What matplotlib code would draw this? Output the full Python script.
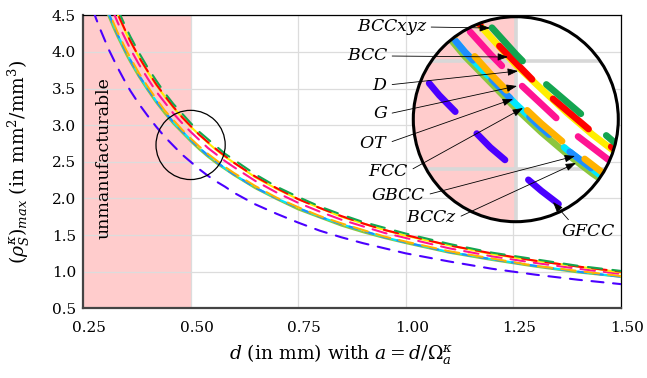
import numpy as np
import matplotlib
matplotlib.use("Agg")
import matplotlib.pyplot as plt
from matplotlib.patches import Circle, Ellipse
from matplotlib.transforms import ScaledTranslation

plt.rcParams['font.family'] = ['DejaVu Serif']
plt.rcParams['mathtext.fontset'] = 'dejavuserif'

# strut diameter d (mm) where the curves were read
d_pts = [0.25, 0.26, 0.27, 0.28, 0.29, 0.30, 0.31, 0.32, 0.33, 0.34, 0.35, 0.36,
         0.38, 0.40, 0.42, 0.44, 0.46, 0.48, 0.50, 0.52, 0.54, 0.56, 0.58, 0.60,
         0.65, 0.70, 0.75, 0.80, 0.85, 0.90, 0.95, 1.00, 1.10, 1.20, 1.30, 1.40, 1.50]

# (rho_S)_max for each lattice
BCCxyz = [6.06, 5.83, 5.61, 5.41, 5.22, 5.05, 4.89, 4.73, 4.59, 4.46, 4.33, 4.21,
          3.99, 3.79, 3.61, 3.44, 3.29, 3.16, 3.03, 2.91, 2.81, 2.71, 2.61, 2.53,
          2.33, 2.16, 2.02, 1.89, 1.78, 1.68, 1.60, 1.52, 1.38, 1.26, 1.17, 1.08, 1.01]
BCC    = [5.98, 5.75, 5.54, 5.34, 5.16, 4.98, 4.82, 4.67, 4.53, 4.40, 4.27, 4.15,
          3.93, 3.74, 3.56, 3.40, 3.25, 3.11, 2.99, 2.87, 2.77, 2.67, 2.58, 2.49,
          2.30, 2.14, 1.99, 1.87, 1.76, 1.66, 1.57, 1.50, 1.36, 1.25, 1.15, 1.07, 1.00]
D      = [5.97, 5.74, 5.53, 5.33, 5.14, 4.97, 4.81, 4.66, 4.52, 4.39, 4.26, 4.14,
          3.93, 3.73, 3.55, 3.39, 3.24, 3.11, 2.98, 2.87, 2.76, 2.66, 2.57, 2.49,
          2.29, 2.13, 1.99, 1.87, 1.75, 1.66, 1.57, 1.49, 1.36, 1.24, 1.15, 1.07, 0.99]
G      = [5.82, 5.60, 5.39, 5.20, 5.02, 4.85, 4.69, 4.55, 4.41, 4.28, 4.16, 4.04,
          3.83, 3.64, 3.46, 3.31, 3.16, 3.03, 2.91, 2.80, 2.69, 2.60, 2.51, 2.43,
          2.24, 2.08, 1.94, 1.82, 1.71, 1.62, 1.53, 1.46, 1.32, 1.21, 1.12, 1.04, 0.97]
OT     = [5.64, 5.42, 5.22, 5.04, 4.86, 4.70, 4.55, 4.41, 4.27, 4.15, 4.03, 3.92,
          3.71, 3.53, 3.36, 3.20, 3.07, 2.94, 2.82, 2.71, 2.61, 2.52, 2.43, 2.35,
          2.17, 2.01, 1.88, 1.76, 1.66, 1.57, 1.48, 1.41, 1.28, 1.18, 1.08, 1.01, 0.94]
GBCC   = [5.60, 5.38, 5.19, 5.00, 4.83, 4.67, 4.52, 4.38, 4.24, 4.12, 4.00, 3.89,
          3.68, 3.50, 3.33, 3.18, 3.04, 2.92, 2.80, 2.69, 2.59, 2.50, 2.41, 2.33,
          2.15, 2.00, 1.87, 1.75, 1.65, 1.56, 1.47, 1.40, 1.27, 1.17, 1.08, 1.00, 0.93]
FCC    = [5.60, 5.38, 5.19, 5.00, 4.83, 4.67, 4.52, 4.38, 4.24, 4.12, 4.00, 3.89,
          3.68, 3.50, 3.33, 3.18, 3.04, 2.92, 2.80, 2.69, 2.59, 2.50, 2.41, 2.33,
          2.15, 2.00, 1.87, 1.75, 1.65, 1.56, 1.47, 1.40, 1.27, 1.17, 1.08, 1.00, 0.93]
BCCz   = [5.56, 5.35, 5.15, 4.96, 4.79, 4.63, 4.48, 4.34, 4.21, 4.09, 3.97, 3.86,
          3.66, 3.48, 3.31, 3.16, 3.02, 2.90, 2.78, 2.67, 2.57, 2.48, 2.40, 2.32,
          2.14, 1.99, 1.85, 1.74, 1.63, 1.54, 1.46, 1.39, 1.26, 1.16, 1.07, 0.99, 0.93]
GFCC   = [5.00, 4.81, 4.63, 4.46, 4.31, 4.17, 4.03, 3.91, 3.79, 3.68, 3.57, 3.47,
          3.29, 3.13, 2.98, 2.84, 2.72, 2.60, 2.50, 2.40, 2.31, 2.23, 2.16, 2.08,
          1.92, 1.79, 1.67, 1.56, 1.47, 1.39, 1.32, 1.25, 1.14, 1.04, 0.96, 0.89, 0.83]

x_ticks = [0.25, 0.50, 0.75, 1.00, 1.25, 1.50]
y_ticks = [0.5, 1.0, 1.5, 2.0, 2.5, 3.0, 3.5, 4.0, 4.5]
d_min_manuf = 0.5

# drawing order, colour, dash (on, off in linewidths), dash offset
series = [
    (BCCz,   '#8cc63f', None, 0),
    (FCC,    '#00e8ff', (7, 4.3), 3),
    (GBCC,   '#1e8fff', (4, 4), 0),
    (OT,     '#ffb300', (7, 4.3), 0),
    (G,      '#ff1493', (7, 4.3), 5),
    (D,      '#ffee00', None, 0),
    (BCC,    '#ff0000', (7, 4.3), 2),
    (BCCxyz, '#14a550', (6.8, 5), 6),
    (GFCC,   '#4b00ff', (5.8, 4.6), 4.8),
]

W, H = 647, 378
fig = plt.figure(figsize=(W / 100, H / 100), dpi=100)
ax = fig.add_axes([83 / W, 1 - 308.3 / H, (621 - 83) / W, (308.3 - 15.3) / H])

ax.axvspan(0.25, d_min_manuf, color='#ffcccc', lw=0, zorder=0)
for xt in x_ticks:
    ax.axvline(xt, color='#dcdcdc', lw=0.9, zorder=1)
for yt in y_ticks:
    ax.axhline(yt, color='#dcdcdc', lw=0.9, zorder=1)


def draw_curves(a, lw):
    for vals, col, dash, off in series:
        ls = '-' if dash is None else (off, dash)
        a.plot(d_pts, vals, color=col, lw=lw, ls=ls, zorder=3,
               dash_capstyle='round', solid_capstyle='round')


draw_curves(ax, 1.5)

ax.set_xlim(0.25, 1.5)
ax.set_ylim(0.5, 4.5)
ax.set_xticks(x_ticks)
ax.set_xticklabels(['%.2f' % v for v in x_ticks])
ax.set_yticks(y_ticks)
ax.tick_params(length=0, labelsize=11)
ax.tick_params(axis='x', pad=9)
ax.tick_params(axis='y', pad=5)
shift = ScaledTranslation(6 / 100, 0, fig.dpi_scale_trans)
for lab in ax.get_xticklabels():
    lab.set_transform(lab.get_transform() + shift)
for s in ['left', 'bottom']:
    ax.spines[s].set_linewidth(1.6)
    ax.spines[s].set_color('#444444')
for s in ['top', 'right']:
    ax.spines[s].set_linewidth(0.9)
ax.set_xlabel(r'$d$ (in mm) with $a = d/\Omega_a^\kappa$', fontsize=13.5)
ax.xaxis.set_label_coords(0.48, -0.115)
ax.set_ylabel(r'$(\rho_S^\kappa)_{max}$ (in mm$^2$/mm$^3$)', fontsize=13.5)
ax.yaxis.set_label_coords(-0.094, 0.5)
ax.text(0.30, 2.55, 'unmanufacturable', rotation=90, ha='center', va='center', fontsize=12.5)

# small circle marking the magnified region
cx, cy = 0.5, 2.73
rx, ry = 34.6 / 430.4, 34.6 / 73.25
ax.add_patch(Ellipse((cx, cy), 2 * rx, 2 * ry, fill=False, ec='black', lw=0.9, zorder=5))

# magnified inset (x3)
R = 102.5
ins = fig.add_axes([(515.8 - R) / W, 1 - (119.2 + R) / H, 2 * R / W, 2 * R / H])
ins.set_xlim(cx - rx, cx + rx)
ins.set_ylim(cy - ry, cy + ry)
ins.axis('off')
clip = Circle((0.5, 0.5), 0.5, transform=ins.transAxes)
bg = Circle((0.5, 0.5), 0.5, transform=ins.transAxes, fc='white', ec='none', zorder=0)
ins.add_patch(bg)
ins.axvspan(0.25, d_min_manuf, color='#ffcccc', lw=0, zorder=0.5)
ins.axvline(0.5, color='#d8d8d8', lw=2.6, zorder=1)
for yt in [2.5, 3.0]:
    ins.axhline(yt, color='#d8d8d8', lw=2.6, zorder=1)
draw_curves(ins, 4.8)
for art in ins.lines + ins.patches:
    if art is not bg:
        art.set_clip_path(clip)
ins.add_patch(Circle((0.5, 0.5), 0.5, transform=ins.transAxes, fill=False,
                     ec='black', lw=2.2, zorder=6, clip_on=False))

# labels with arrows into the inset, figure pixel coordinates (y from top)
labels = [
    ('BCCxyz', (427, 27), (490, 28), 'right', (1, 0.5)),
    ('BCC',    (388, 56), (508, 57), 'right', (1, 0.5)),
    ('D',      (388, 85), (518, 71), 'right', (1, 0.5)),
    ('G',      (388, 114), (517, 86), 'right', (1, 0.5)),
    ('OT',     (388, 143), (513, 99), 'right', (1, 0.5)),
    ('FCC',    (409, 171), (523, 108), 'right', (1, 0.5)),
    ('GBCC',   (426, 195), (575, 156), 'right', (1, 0.5)),
    ('BCCz',   (457, 218), (576, 163), 'right', (1, 0.5)),
    ('GFCC',   (588, 232), (553, 202), 'center', (0.2, 1)),
]
for name, (tx, ty), (px, py), ha, rp in labels:
    ins.annotate('$' + name + '$', xy=(px, H - py), xycoords='figure pixels',
                 xytext=(tx, H - ty), textcoords='figure pixels',
                 ha=ha, va='center', fontsize=12.5, zorder=10,
                 annotation_clip=False,
                 arrowprops=dict(arrowstyle='-|>,head_length=0.5,head_width=0.18',
                                 color='black', lw=0.6, shrinkA=1, shrinkB=0,
                                 relpos=rp))

fig.savefig('out.png', dpi=100)
